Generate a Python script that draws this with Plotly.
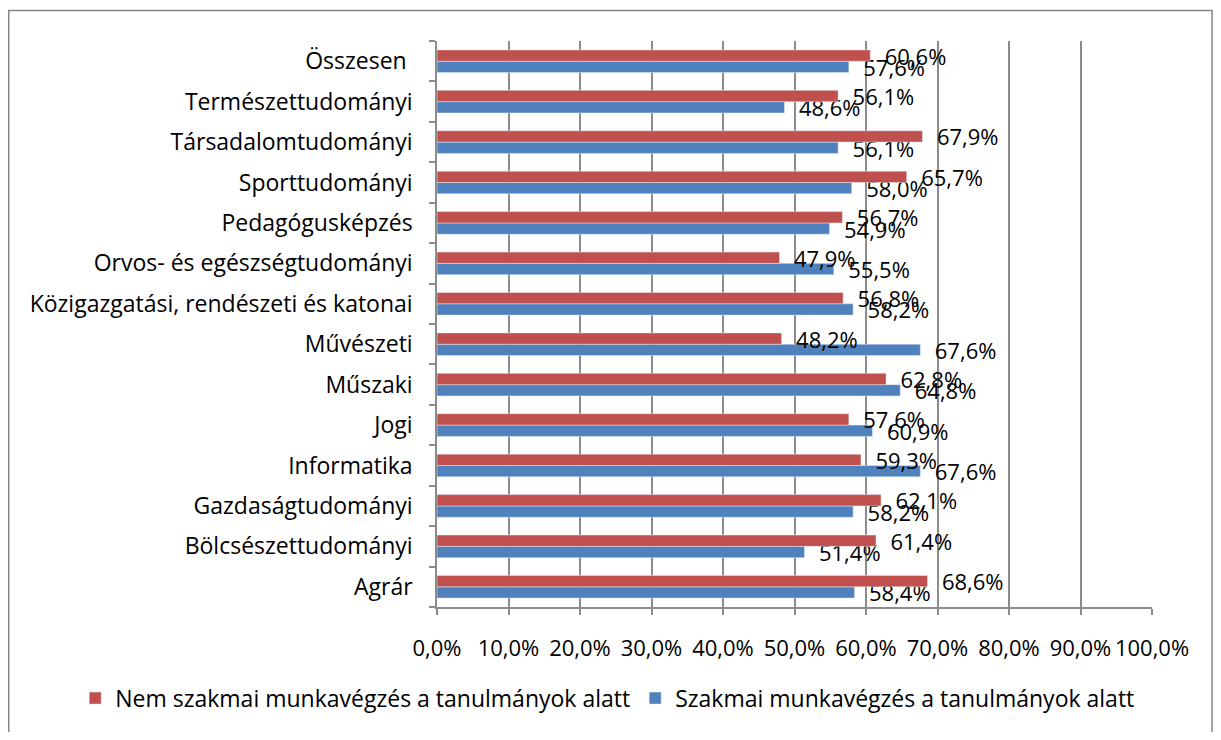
import plotly.graph_objects as go

# kategóriák alulról felfelé
categories = [
    "Agrár",
    "Bölcsészettudományi",
    "Gazdaságtudományi",
    "Informatika",
    "Jogi",
    "Műszaki",
    "Művészeti",
    "Közigazgatási, rendészeti és katonai",
    "Orvos- és egészségtudományi",
    "Pedagógusképzés",
    "Sporttudományi",
    "Társadalomtudományi",
    "Természettudományi",
    "Összesen\u00a0",
]

nem_szakmai = [0.686, 0.614, 0.621, 0.593, 0.576, 0.628, 0.482, 0.568, 0.479, 0.567, 0.657, 0.679, 0.561, 0.606]
szakmai = [0.584, 0.514, 0.582, 0.676, 0.609, 0.648, 0.676, 0.582, 0.555, 0.549, 0.580, 0.561, 0.486, 0.576]

x_ticks = [0, 0.1, 0.2, 0.3, 0.4, 0.5, 0.6, 0.7, 0.8, 0.9, 1.0]

RED = "#C0504D"
BLUE = "#4F81BD"
GRID = "#8C8C8C"
FONT = "Open Sans"

fig = go.Figure()

# a kék sorozat kerül alulra a csoporton belül
fig.add_trace(go.Bar(
    y=categories, x=szakmai, orientation="h",
    name="Szakmai munkavégzés a tanulmányok alatt",
    marker=dict(color=BLUE),
    texttemplate="\u00a0\u00a0%{x:.1%}", textposition="outside",
    constraintext="none", cliponaxis=False,
    textfont=dict(size=22, color="#000000", family=FONT),
    legendrank=2,
))
fig.add_trace(go.Bar(
    y=categories, x=nem_szakmai, orientation="h",
    name="Nem szakmai munkavégzés a tanulmányok alatt",
    marker=dict(color=RED),
    texttemplate="\u00a0\u00a0%{x:.1%}", textposition="outside",
    constraintext="none", cliponaxis=False,
    textfont=dict(size=22, color="#000000", family=FONT),
    legendrank=1,
))

fig.update_layout(
    width=1205, height=724,
    margin=dict(l=429, r=61, t=33, b=118),
    barmode="group", bargap=0.44, bargroupgap=0,
    separators=", ",
    paper_bgcolor="white", plot_bgcolor="white",
    font=dict(family=FONT, size=23, color="#000000"),
    showlegend=True,
    legend=dict(orientation="h", x=-0.506, xanchor="left",
                y=-0.161, yanchor="middle", font=dict(size=23),
                bgcolor="rgba(0,0,0,0)"),
    shapes=[dict(type="rect", xref="paper", yref="paper",
                 x0=-0.599, x1=1.084, y0=-0.225, y1=1.054,
                 line=dict(color="#868686", width=1.5), fillcolor="rgba(0,0,0,0)",
                 layer="below")],
)

fig.update_xaxes(
    range=[0, 1], tickvals=x_ticks, tickformat=".1%",
    tickfont=dict(size=22),
    showgrid=True, gridcolor=GRID, gridwidth=1.5,
    showline=True, linecolor=GRID, linewidth=1.5,
    ticks="outside", ticklen=6, tickcolor=GRID, tickwidth=1.5,
    ticklabelstandoff=15, zeroline=False,
)
fig.update_yaxes(
    categoryorder="array", categoryarray=categories,
    showline=True, linecolor=GRID, linewidth=1.5,
    ticks="outside", ticklen=6, tickcolor=GRID, tickwidth=1.5,
    tickson="boundaries", ticklabelstandoff=18, showgrid=False,
)

fig.write_html("out.html")
